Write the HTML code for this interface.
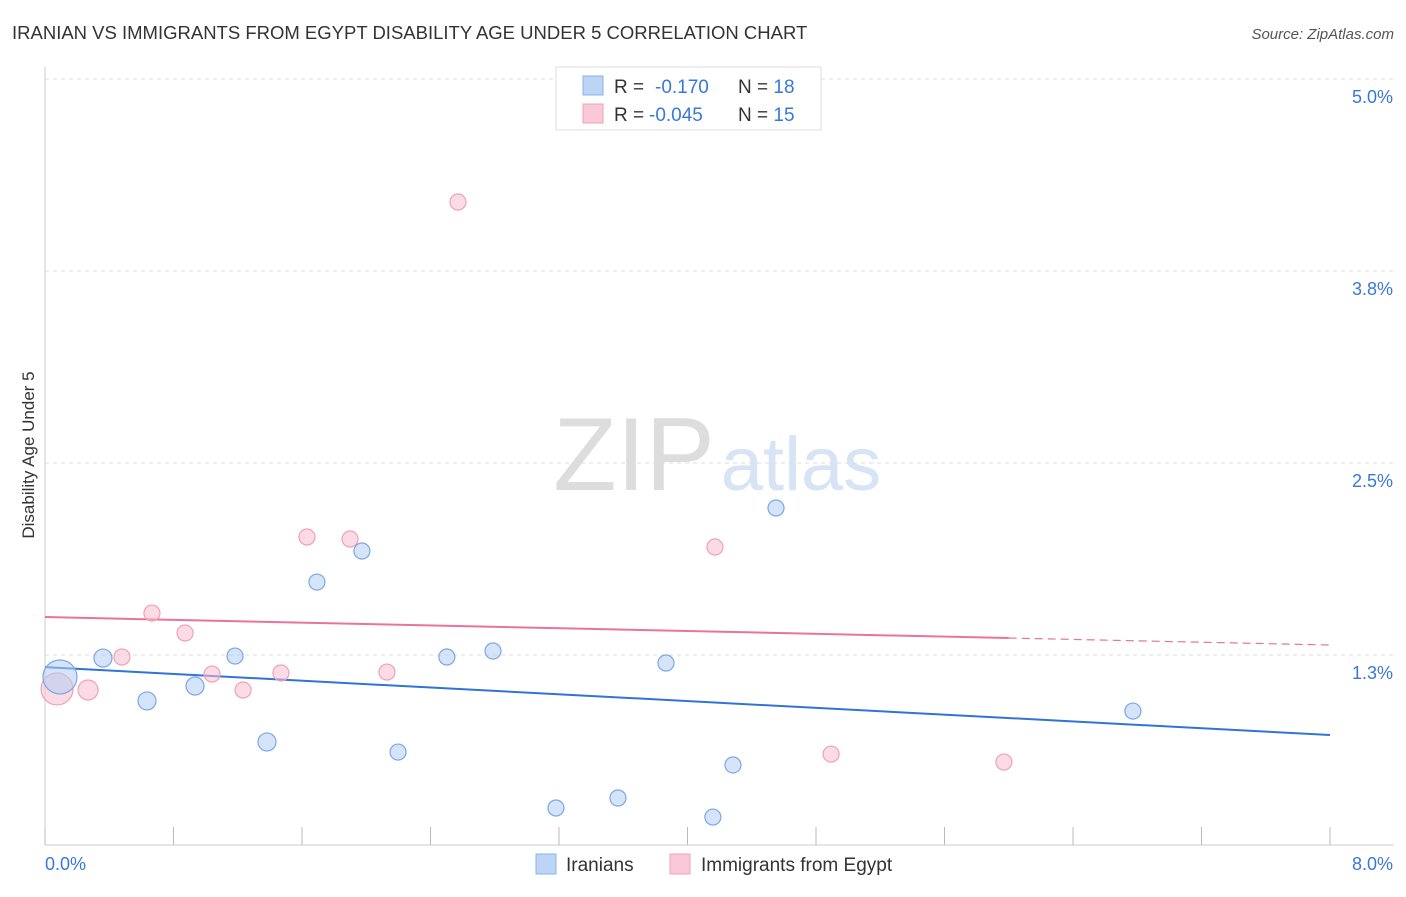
<!DOCTYPE html>
<html><head><meta charset="utf-8"><style>
body{margin:0;background:#fff;font-family:"Liberation Sans",sans-serif}
svg text{font-family:"Liberation Sans",sans-serif}
</style></head><body>
<svg id="c" width="1406" height="892">
<text x="12" y="39" font-size="18.5" fill="#333">IRANIAN VS IMMIGRANTS FROM EGYPT DISABILITY AGE UNDER 5 CORRELATION CHART</text>
<text x="1394" y="39" font-size="15" fill="#555" text-anchor="end" font-style="italic">Source: ZipAtlas.com</text>
<text transform="translate(34,455) rotate(-90)" font-size="17" fill="#333" text-anchor="middle">Disability Age Under 5</text>
<g><text x="634" y="490" font-size="104" fill="#ddd" text-anchor="middle" font-family="Liberation Serif,serif">ZIP</text><text x="801" y="490" font-size="76" fill="#d6e4f5" text-anchor="middle">atlas</text></g>
<g id="grid"></g><g id="axes"></g><g id="lines"></g><g id="pts"></g>
<g>
<rect x="556" y="67" width="265" height="63" fill="#fff" stroke="#ddd"/>
<rect x="583" y="76" width="20" height="19" fill="#bcd4f5" stroke="#8ab4e8"/>
<rect x="583" y="104" width="20" height="19" fill="#fac8d6" stroke="#f0a0b8"/>
<text x="614" y="93" font-size="19" fill="#333">R = <tspan x="655" fill="#3a78d8">-0.170</tspan><tspan x="738">N = </tspan><tspan fill="#3a78d8">18</tspan></text>
<text x="614" y="121" font-size="19" fill="#333">R = <tspan x="649" fill="#3a78d8">-0.045</tspan><tspan x="738">N = </tspan><tspan fill="#3a78d8">15</tspan></text>
</g>
<g>
<rect x="536" y="854" width="20" height="20" fill="#bcd4f5" stroke="#8ab4e8"/>
<text x="566" y="871" font-size="19" fill="#333">Iranians</text>
<rect x="670" y="854" width="20" height="20" fill="#fac8d6" stroke="#f0a0b8"/>
<text x="701" y="871" font-size="19" fill="#333">Immigrants from Egypt</text>
</g>
</svg>
<script>
const yTicks=[5.0,3.75,2.5,1.25];
const yTickLabels=["5.0%","3.8%","2.5%","1.3%"];
const xTickLabels=["0.0%","8.0%"];
const iranX=[0.093,0.361,0.635,0.934,1.183,1.382,1.693,1.973,2.198,2.502,2.789,3.181,3.567,3.866,4.158,4.283,4.551,6.773];
const iranY=[1.107,1.230,0.951,1.048,1.243,0.684,1.725,1.927,0.618,1.237,1.276,0.254,0.319,1.198,0.195,0.534,2.207,0.885];
const iranR=[17,9,9,9,8,9,8,8,8,8,8,8,8,8,8,8,8,8];
const egyX=[0.075,0.268,0.479,0.666,0.872,1.040,1.233,1.469,1.631,1.899,2.129,2.571,4.171,4.894,5.970];
const egyY=[1.029,1.022,1.237,1.523,1.393,1.126,1.022,1.133,2.018,2.005,1.139,4.199,1.953,0.605,0.553];
const egyR=[16,10,8,8,8,8,8,8,8,8,8,8,8,8,8];
const iranTrend=[1.171,0.729];
const egyTrend=[1.497,1.315];
const egyTrendSolidEnd=6.0;
const X=v=>45+v/8*1285, Y=v=>847-v*153.6;
const NS="http://www.w3.org/2000/svg";
function mk(p,t,a){const e=document.createElementNS(NS,t);for(const k in a)e.setAttribute(k,a[k]);document.getElementById(p).appendChild(e);return e;}
yTicks.forEach((v,i)=>{
 const l=mk('grid','line',{x1:45,x2:1394,y1:Y(v),y2:Y(v),stroke:'#ddd','stroke-dasharray':'4,4'});
 
 
 const t=mk('grid','text',{x:1393,y:Y(v)+24,'font-size':18,fill:'#3a78d8','text-anchor':'end'});t.textContent=yTickLabels[i];
 
 
});
let a=mk('axes','line',{x1:45,x2:1394,y1:845,y2:845,stroke:'#ccc'});


a=mk('axes','line',{x1:45,x2:45,y1:67,y2:845,stroke:'#ccc'});


for(let i=0;i<=10;i++){const t=mk('axes','line',{x1:X(i*0.8),x2:X(i*0.8),y1:827,y2:845,stroke:'#bbb'});
 
 }
[[45,'start'],[1393,'end']].forEach((p,i)=>{const t=mk('axes','text',{x:p[0],y:870,'font-size':18,fill:'#3a78d8','text-anchor':p[1]});t.textContent=xTickLabels[i];
 
 });
let l=mk('lines','line',{x1:X(0),y1:Y(iranTrend[0]),x2:X(8),y2:Y(iranTrend[1]),stroke:'#2f74d6','stroke-width':2});


const ey=v=>egyTrend[0]+(egyTrend[1]-egyTrend[0])*v/8;
l=mk('lines','line',{x1:X(0),y1:Y(ey(0)),x2:X(egyTrendSolidEnd),y2:Y(ey(egyTrendSolidEnd)),stroke:'#e8749a','stroke-width':2});


l=mk('lines','line',{x1:X(egyTrendSolidEnd),y1:Y(ey(egyTrendSolidEnd)),x2:X(8),y2:Y(ey(8)),stroke:'#e8749a','stroke-width':1.2,'stroke-dasharray':'8,5'});


egyX.forEach((v,i)=>{const c=mk('pts','circle',{cx:X(v),cy:Y(egyY[i]),r:egyR[i],fill:'rgba(248,190,208,0.55)',stroke:'#f0a0b8','stroke-width':1.2});
 
 });
iranX.forEach((v,i)=>{const c=mk('pts','circle',{cx:X(v),cy:Y(iranY[i]),r:iranR[i],fill:'rgba(178,205,242,0.55)',stroke:'#7aa8e4','stroke-width':1.2});
 
 });
</script>
</body></html>
